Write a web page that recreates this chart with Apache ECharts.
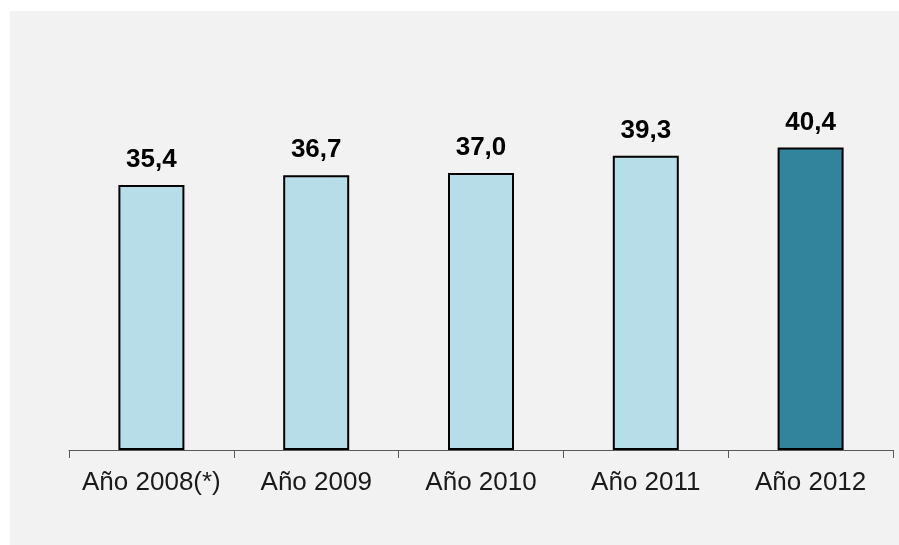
<!DOCTYPE html>
<html>
<head>
<meta charset="utf-8">
<script src="https://cdn.jsdelivr.net/npm/echarts@6/dist/echarts.min.js"></script>
<style>
  html, body { margin: 0; padding: 0; background: #fff; }
  #main { width: 899px; height: 545px; }
</style>
</head>
<body>
<div id="main"></div>
<script>
// datos del gráfico
const categories = ['Año 2008(*)', 'Año 2009', 'Año 2010', 'Año 2011', 'Año 2012']
const values = [35.4, 36.7, 37.0, 39.3, 40.4]
const barColors = ['#b7dde8', '#b7dde8', '#b7dde8', '#b7dde8', '#31849b']

const myChart = echarts.init(document.getElementById('main'))

myChart.setOption({
  backgroundColor: '#ffffff',
  animation: false,
  textStyle: { fontFamily: 'Liberation Sans, Arial, sans-serif' },
  graphic: [{
    type: 'rect',
    z: -10,
    silent: true,
    shape: { x: 10, y: 11, width: 889, height: 534 },
    style: { fill: '#f2f2f2' }
  }],
  grid: {
    left: 69,
    right: 6,
    top: 113,
    bottom: 95,
    containLabel: false
  },
  xAxis: {
    type: 'category',
    data: categories,
    axisLine: { lineStyle: { color: '#595959', width: 1 } },
    axisTick: { show: true, length: 8, lineStyle: { color: '#595959' } },
    axisLabel: {
      interval: 0,
      color: '#1a1a1a',
      fontSize: 26,
      margin: 20
    }
  },
  yAxis: {
    type: 'value',
    min: 0,
    max: 45,
    show: false,
    splitLine: { show: false }
  },
  series: [{
    type: 'bar',
    barWidth: 66,
    data: values.map((v, i) => ({
      value: v,
      itemStyle: { color: barColors[i], borderColor: '#000', borderWidth: 2 }
    })),
    label: {
      show: true,
      position: 'top',
      distance: 12,
      fontSize: 26,
      fontWeight: 'bold',
      color: '#000',
      formatter: p => p.value.toFixed(1).replace('.', ',')
    }
  }]
})
</script>
</body>
</html>
